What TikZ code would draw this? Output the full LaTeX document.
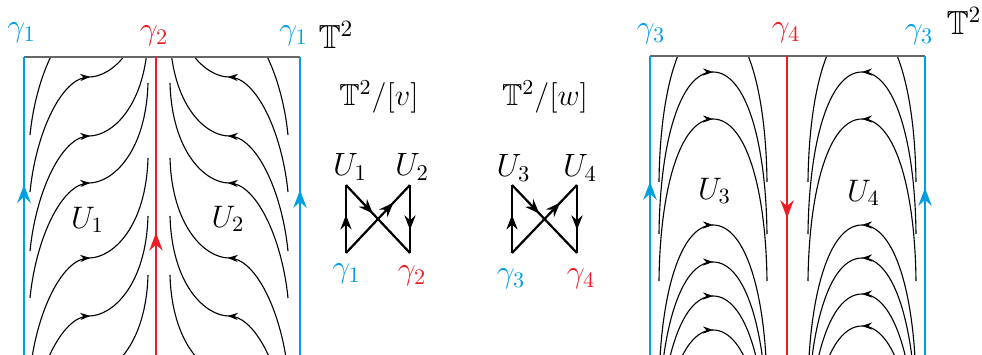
\RequirePackage{fix-cm}
\documentclass[tikz,border=0pt]{standalone}
\usepackage{amsmath,amssymb}
\usetikzlibrary{arrows.meta,decorations.markings}

\definecolor{gblue}{RGB}{0,158,226}
\definecolor{gred}{RGB}{237,28,36}

\tikzset{
  flow/.style={line width=0.5pt, black},
  farr/.style={postaction={decorate,decoration={markings,
      mark=at position #1 with {\arrow{Stealth[length=4.5pt,width=3.2pt]}}}}},
  barr/.style={postaction={decorate,decoration={markings,
      mark=at position #1 with {\arrow{Stealth[length=8pt,width=6pt]}}}}},
  darr/.style={postaction={decorate,decoration={markings,
      mark=at position #1 with {\arrow{Stealth[length=6.5pt,width=5pt]}}}}},
  bline/.style={gblue, line width=0.9pt},
  rline/.style={gred, line width=0.7pt},
  topedge/.style={black!60, line width=0.7pt},
  dgm/.style={black, line width=1pt},
  glab/.style={font=\fontsize{14.4}{17}\selectfont, inner sep=0pt},
  tlab/.style={font=\fontsize{15}{18}\selectfont, inner sep=0pt},
  qlab/.style={font=\fontsize{13.7}{16}\selectfont, inner sep=0pt},
  ubig/.style={font=\fontsize{14}{17}\selectfont, inner sep=0pt},
  usm/.style={font=\fontsize{14.5}{17}\selectfont, inner sep=0pt}
}

\begin{document}
\begin{tikzpicture}[x=0.45pt, y=-0.45pt]
    \useasboundingbox (0,0) rectangle (982,355);
    \clip (0,0) rectangle (982,355);

    % Left torus: flow lines in U1 and U2
    \begin{scope}
        \clip (24,57) rectangle (156,360);
        \foreach \c in {20,77,136,183,258,316,375}
            \draw[flow, farr=0.525] (30,\c+115) .. controls (36,\c+55) and (62,\c) .. (89,\c)
                .. controls (112,\c) and (146,\c-30) .. (148,\c-100);
    \end{scope}
    \begin{scope}
        \clip (156,57) rectangle (300,360);
        \foreach \c in {20,77,136,183,258,316,375}
            \draw[flow, farr=0.525] (288,\c+115) .. controls (282,\c+55) and (256,\c) .. (229,\c)
                .. controls (206,\c) and (172,\c-30) .. (170,\c-100);
    \end{scope}

    % Left torus: boundary
    \draw[topedge] (24,57) -- (300,57);
    \draw[bline, barr=0.578] (24,360) -- (24,57);
    \draw[bline, barr=0.561] (300,360) -- (300,57);
    \draw[rline, barr=0.42] (156,360) -- (156,57);

    \node[glab, text=gblue] (g1l) at (21.5,33) {$\gamma_1$};
    \node[glab, text=gred] (g2t) at (154,36) {$\gamma_2$};
    \node[glab, text=gblue] (g1r) at (293.5,36) {$\gamma_1$};
    \node[tlab] (tl) at (336,35) {$\mathbb{T}^2$};
    \node[ubig] (U1big) at (87.5,220) {$U_1$};
    \node[ubig] (U2big) at (228,219) {$U_2$};

    % Quotient by v
    \node[qlab] (qv) at (379,97) {$\mathbb{T}^2/[v]$};
    \coordinate (v1) at (346,185);
    \coordinate (v2) at (410,185);
    \coordinate (v3) at (346,253);
    \coordinate (v4) at (410,253);
    \node[usm] (U1s) at (350,167) {$U_1$};
    \node[usm] (U2s) at (412,167) {$U_2$};
    \node[glab, text=gblue] (g1s) at (346.5,274) {$\gamma_1$};
    \node[glab, text=gred] (g2s) at (412,276) {$\gamma_2$};
    \draw[dgm, darr=0.56] (v3) -- (v1);
    \draw[dgm, darr=0.42] (v1) -- (v4);
    \draw[dgm, darr=0.74] (v3) -- (v2);
    \draw[dgm, darr=0.66] (v2) -- (v4);

    % Quotient by w
    \node[qlab] (qw) at (545,97) {$\mathbb{T}^2/[w]$};
    \coordinate (w1) at (512,185);
    \coordinate (w2) at (577,185);
    \coordinate (w3) at (512,253);
    \coordinate (w4) at (577,253);
    \node[usm] (U3s) at (513.5,168) {$U_3$};
    \node[usm] (U4s) at (580,168) {$U_4$};
    \node[glab, text=gblue] (g3s) at (511,279) {$\gamma_3$};
    \node[glab, text=gred] (g4s) at (581,279) {$\gamma_4$};
    \draw[dgm, darr=0.56] (w3) -- (w1);
    \draw[dgm, darr=0.42] (w1) -- (w4);
    \draw[dgm, darr=0.74] (w3) -- (w2);
    \draw[dgm, darr=0.66] (w2) -- (w4);

    % Right torus: flow lines in U3 and U4
    \begin{scope}
        \clip (650,56) rectangle (787,360);
        \foreach \a in {20,72,119,225,262,296,330}
            \draw[flow, farr=0.5] (659,\a+162) .. controls (660,\a+70) and (680,\a) .. (713,\a)
                .. controls (746,\a) and (766,\a+70) .. (767,\a+162);
    \end{scope}
    \begin{scope}
        \clip (787,56) rectangle (925,360);
        \foreach \a in {20,72,119,225,258,294,326}
            \draw[flow, farr=0.5] (916,\a+162) .. controls (915,\a+70) and (895,\a) .. (862,\a)
                .. controls (829,\a) and (809,\a+70) .. (808,\a+162);
    \end{scope}

    % Right torus: boundary
    \draw[topedge] (650,56) -- (925,56);
    \draw[bline, barr=0.586] (650,360) -- (650,56);
    \draw[bline, barr=0.566] (925,360) -- (925,56);
    \draw[rline, barr=0.533] (787,56) -- (787,360);

    \node[glab, text=gblue] (g3l) at (651,34) {$\gamma_3$};
    \node[glab, text=gred] (g4t) at (786,33) {$\gamma_4$};
    \node[glab, text=gblue] (g3r) at (919,35) {$\gamma_3$};
    \node[tlab] (tr) at (964,21) {$\mathbb{T}^2$};
    \node[ubig] (U3big) at (714.5,191) {$U_3$};
    \node[ubig] (U4big) at (863.5,193) {$U_4$};
\end{tikzpicture}
\end{document}
